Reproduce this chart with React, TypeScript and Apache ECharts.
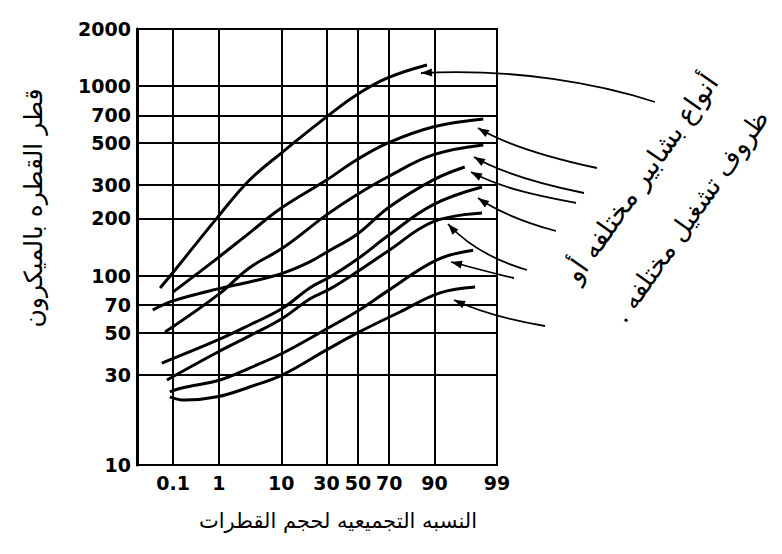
import React, { useEffect, useRef } from "react";
import * as echarts from "echarts";

// ---- axes ----
const xTickPercents = [0.1, 1, 10, 30, 50, 70, 90, 99];
const xTickLabels = ["0.1", "1", "10", "30", "50", "70", "90", "99"];
const xMinPercent = 0.011;
const xMaxPercent = 99;
const yTicks = [10, 30, 50, 70, 100, 200, 300, 500, 700, 1000, 2000];
const yMin = 10;
const yMax = 2000;

// ---- curves: [cumulative percent, droplet diameter (micron)] ----
const curveA = [[0.047, 86], [0.1, 104], [0.96, 204], [3.5, 319], [10, 443], [30, 687], [49, 897], [69, 1103], [87.6, 1291]];
const curveB = [[0.1, 82], [0.96, 124], [3.5, 168], [10, 227], [30, 319], [49, 407], [69, 500], [89.5, 608], [98.2, 670]];
const curveC = [[0.063, 50.4], [0.96, 79], [3.5, 110], [10.5, 140], [30, 209], [49, 266], [69, 331], [89.5, 433], [98.2, 489]];
const curveD = [[0.03, 65.8], [0.1, 73.5], [0.96, 85], [3.5, 92.5], [10.5, 103], [21, 118], [32, 136], [49, 164], [70, 230], [89.5, 319], [96.3, 374]];
const curveE = [[0.052, 34.5], [0.96, 45.7], [3.5, 54.8], [10.5, 67.4], [21, 86], [32, 98.2], [49, 121], [70, 164], [89.5, 236], [98.1, 293]];
const curveF = [[0.07, 28.1], [0.96, 39.5], [3.5, 48], [10.5, 59.7], [21, 75.2], [32, 85], [49, 104], [70, 136], [89.5, 192], [98.1, 214]];
const curveG = [[0.083, 24.3], [0.16, 25.5], [1.05, 28.1], [3.5, 32.5], [10.5, 39], [32, 53.5], [51, 65.8], [70, 84], [90.7, 121], [97.3, 136]];
const curveH = [[0.083, 22.9], [0.19, 22], [0.93, 22.9], [3.5, 25.8], [10.5, 30], [30, 40.5], [51, 50.4], [75.9, 64.2], [91.5, 81], [97.5, 87]];
const curves = [curveA, curveB, curveC, curveD, curveE, curveF, curveG, curveH];

// ---- texts ----
const yTitle = "قطر القطره بالميكرون";
const xTitle = "النسبه التجميعيه لحجم القطرات";
const note1 = "أنواع بشابير مختلفه أو";
const note2 = "ظروف تشغيل مختلفه .";

// inverse standard normal CDF (Acklam)
function probit(p: number): number {
  const a = [-39.69683028665376, 220.9460984245205, -275.9285104469687, 138.357751867269, -30.66479806614716, 2.506628277459239];
  const b = [-54.47609879822406, 161.5858368580409, -155.6989798598866, 66.80131188771972, -13.28068155288572];
  const c = [-0.007784894002430293, -0.3223964580411365, -2.400758277161838, -2.549732539343734, 4.374664141464968, 2.938163982698783];
  const d = [0.007784695709041462, 0.3224671290700398, 2.445134137142996, 3.754408661907416];
  const pl = 0.02425;
  if (p < pl) {
    const q = Math.sqrt(-2 * Math.log(p));
    return (((((c[0] * q + c[1]) * q + c[2]) * q + c[3]) * q + c[4]) * q + c[5]) / ((((d[0] * q + d[1]) * q + d[2]) * q + d[3]) * q + 1);
  }
  if (p <= 1 - pl) {
    const q = p - 0.5;
    const r = q * q;
    return ((((((a[0] * r + a[1]) * r + a[2]) * r + a[3]) * r + a[4]) * r + a[5]) * q) / (((((b[0] * r + b[1]) * r + b[2]) * r + b[3]) * r + b[4]) * r + 1);
  }
  const q = Math.sqrt(-2 * Math.log(1 - p));
  return -(((((c[0] * q + c[1]) * q + c[2]) * q + c[3]) * q + c[4]) * q + c[5]) / ((((d[0] * q + d[1]) * q + d[2]) * q + d[3]) * q + 1);
}
const pz = (percent: number) => probit(percent / 100);

// annotation arrows (pixel layout)
const arrows = [
  { tip: [421, 73], c1: [515, 68], c2: [600, 84], tail: [655, 102] },
  { tip: [478, 128], c1: [510, 147], c2: [560, 160], tail: [597, 168] },
  { tip: [474, 157], c1: [505, 175], c2: [550, 186], tail: [584, 193] },
  { tip: [471, 172], c1: [505, 190], c2: [545, 197], tail: [576, 203] },
  { tip: [478, 198], c1: [500, 213], c2: [530, 224], tail: [556, 231] },
  { tip: [448, 224], c1: [470, 248], c2: [500, 262], tail: [527, 270] },
  { tip: [451, 262], c1: [475, 268], c2: [495, 274], tail: [514, 278] },
  { tip: [454, 300], c1: [480, 312], c2: [515, 321], tail: [545, 326] },
];

function arrowGraphics() {
  const els: any[] = [];
  arrows.forEach((a) => {
    els.push({
      type: "bezierCurve",
      shape: { x1: a.tip[0], y1: a.tip[1], cpx1: a.c1[0], cpy1: a.c1[1], cpx2: a.c2[0], cpy2: a.c2[1], x2: a.tail[0], y2: a.tail[1] },
      style: { stroke: "#000", lineWidth: 1.8, fill: null },
      z: 10,
    });
    const dx = a.tip[0] - a.c1[0];
    const dy = a.tip[1] - a.c1[1];
    const len = Math.sqrt(dx * dx + dy * dy);
    const ux = dx / len, uy = dy / len;
    const px = -uy, py = ux;
    const L = 11, W = 4;
    els.push({
      type: "polygon",
      shape: {
        points: [
          [a.tip[0], a.tip[1]],
          [a.tip[0] - ux * L + px * W, a.tip[1] - uy * L + py * W],
          [a.tip[0] - ux * L - px * W, a.tip[1] - uy * L - py * W],
        ],
      },
      style: { fill: "#000" },
      z: 10,
    });
  });
  return els;
}

export default function App() {
  const ref = useRef<HTMLDivElement>(null);
  useEffect(() => {
    if (!ref.current) return;
    const chart = echarts.init(ref.current, null, { renderer: "svg" });
    const xTickZ = xTickPercents.map(pz);
    const labelFont = { color: "#000", fontFamily: "DejaVu Sans", fontWeight: "bold" as const, fontSize: 19 };
    const gridLines = [
      ...xTickZ.map((z) => ({ xAxis: z })),
      ...yTicks.map((v) => ({ yAxis: v })),
    ];
    const series: any[] = curves.map((c, i) => ({
      type: "line",
      data: c.map(([p, v]) => [pz(p), v]),
      smooth: 0.4,
      showSymbol: false,
      symbol: "none",
      lineStyle: { color: "#000", width: 3 },
      z: 5,
      ...(i === 0
        ? {
            markLine: {
              silent: true,
              symbol: "none",
              label: { show: false },
              lineStyle: { color: "#000", width: 2, type: "solid" },
              data: gridLines,
              z: 2,
            },
          }
        : {}),
    }));
    chart.setOption({
      animation: false,
      backgroundColor: "#fff",
      grid: { left: 137, right: 285, top: 29, bottom: 89, show: true, borderColor: "#000", borderWidth: 2, backgroundColor: "transparent" },
      xAxis: {
        type: "value",
        min: pz(xMinPercent),
        max: pz(xMaxPercent),
        splitLine: { show: false },
        axisTick: { show: false },
        axisLine: { show: true, onZero: false, lineStyle: { color: "#000", width: 2 } },
        axisLabel: {
          ...labelFont,
          margin: 8,
          customValues: xTickZ,
          formatter: (v: number) => {
            const i = xTickZ.findIndex((z) => Math.abs(z - v) < 1e-6);
            return i >= 0 ? xTickLabels[i] : "";
          },
        },
      },
      yAxis: {
        type: "log",
        logBase: 10,
        min: yMin,
        max: yMax,
        splitLine: { show: false },
        axisTick: { show: false },
        axisLine: { show: true, onZero: false, lineStyle: { color: "#000", width: 3 } },
        axisLabel: {
          ...labelFont,
          margin: 6,
          customValues: yTicks,
          formatter: (v: number) => String(Math.round(v)),
        },
      },
      series,
      graphic: [
        ...arrowGraphics(),
        {
          type: "text",
          x: 33,
          y: 208,
          rotation: Math.PI / 2,
          style: { text: yTitle, fontFamily: "DejaVu Sans", fontSize: 25, fill: "#000", align: "center", verticalAlign: "middle" },
        },
        {
          type: "text",
          x: 338,
          y: 521,
          style: { text: xTitle, fontFamily: "DejaVu Sans", fontSize: 21, fill: "#000", align: "center", verticalAlign: "middle" },
        },
        {
          type: "text",
          x: 641,
          y: 178,
          rotation: (55 * Math.PI) / 180,
          style: { text: note1, fontFamily: "DejaVu Sans", fontSize: 27, fill: "#000", align: "center", verticalAlign: "middle" },
        },
        {
          type: "text",
          x: 690,
          y: 216,
          rotation: (55 * Math.PI) / 180,
          style: { text: note2 + "\u200F", fontFamily: "DejaVu Sans", fontSize: 26, fill: "#000", align: "center", verticalAlign: "middle" },
        },
      ],
    });
    return () => chart.dispose();
  }, []);
  return (
    <div
      ref={ref}
      style={{ position: "absolute", left: 0, top: 0, width: 782, height: 554, background: "#fff" }}
    />
  );
}
